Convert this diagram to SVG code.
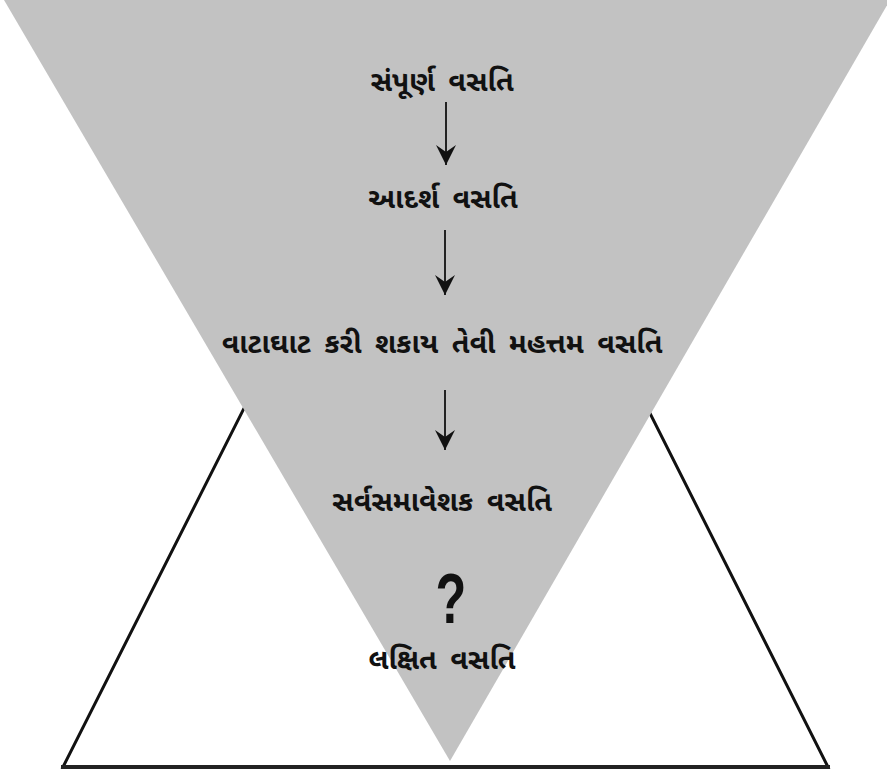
<svg xmlns="http://www.w3.org/2000/svg" width="887" height="774" viewBox="0 0 887 774">
  <style>
    .lbl { font-family: "Noto Sans Gujarati", "Lohit Gujarati", "Noto Sans", "DejaVu Sans", sans-serif; font-weight: bold; font-size: 28.5px; word-spacing: 6px; fill: #111; text-anchor: middle; }
    .q { font-family: "Liberation Sans", Arial, sans-serif; font-weight: bold; font-size: 70px; fill: #111; text-anchor: middle; }
    .conn { stroke: #222; stroke-width: 2; fill: none; }
  </style>
  <defs>
    <marker id="ah" viewBox="0 0 20 20" refX="20" refY="10" markerWidth="20" markerHeight="20" markerUnits="userSpaceOnUse" orient="auto">
      <path d="M0,0 L20,10 L0,20 L7,10 Z" fill="#111"/>
    </marker>
  </defs>
  <rect width="887" height="774" fill="#ffffff"/>
  <g id="target-triangle">
    <polygon points="63,767 446,8 828,767" fill="#ffffff" stroke="#111" stroke-width="3" stroke-linejoin="miter"/>
    <line x1="61" y1="767" x2="830" y2="767" stroke="#222" stroke-width="4"/>
  </g>
  <g id="funnel">
    <polygon points="4,0 890,0 450,761" fill="#c2c2c2"/>
  </g>
  <g id="n1"><text class="lbl" x="442" y="91">સંપૂર્ણ વસતિ</text></g>
  <g id="n2"><text class="lbl" x="443" y="208">આદર્શ વસતિ</text></g>
  <g id="n3"><text class="lbl" x="442" y="353">વાટાઘાટ કરી શકાય તેવી મહત્તમ વસતિ</text></g>
  <g id="n4"><text class="lbl" x="442" y="511">સર્વસમાવેશક વસતિ</text></g>
  <g id="n5"><text class="q" x="451" y="623" transform="translate(451 0) scale(0.72 1) translate(-451 0)">?</text></g>
  <g id="n6"><text class="lbl" x="442" y="669">લક્ષિત વસતિ</text></g>
  <g id="connectors">
    <line class="conn" x1="446" y1="102" x2="446" y2="165" marker-end="url(#ah)"/>
    <line class="conn" x1="445" y1="230" x2="445" y2="295" marker-end="url(#ah)"/>
    <line class="conn" x1="445" y1="390" x2="445" y2="450" marker-end="url(#ah)"/>
  </g>
</svg>
